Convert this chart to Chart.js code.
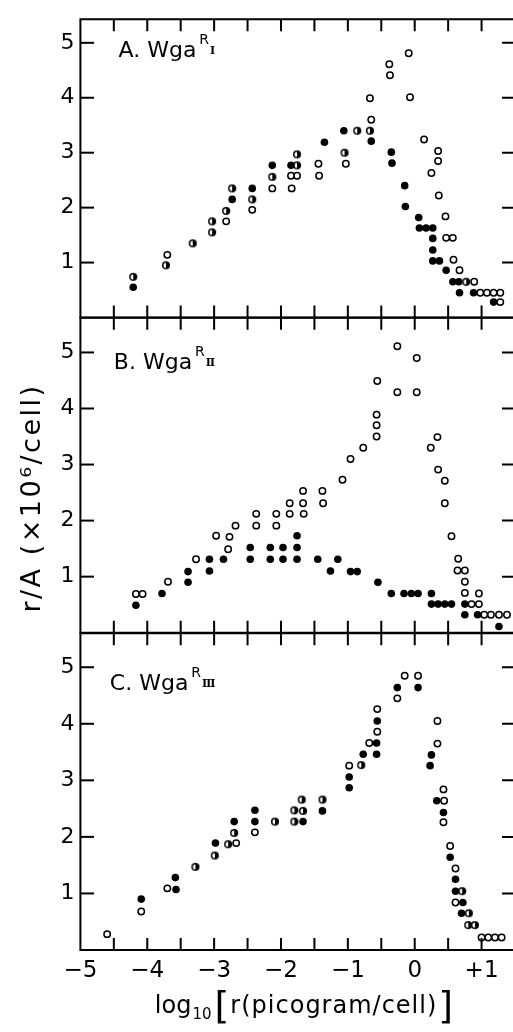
<!DOCTYPE html>
<html>
<head>
<meta charset="utf-8">
<script src="https://cdn.jsdelivr.net/npm/chart.js@4"></script>
<style>
body { margin: 0; background: #fff; }
#wrap { position: relative; width: 513px; height: 1032px; }
canvas { position: absolute; left: 0; top: 0; }
</style>
</head>
<body>
<div id="wrap">
    <canvas id="panelA" width="513" height="1032"></canvas>
    <canvas id="panelB" width="513" height="1032"></canvas>
    <canvas id="panelC" width="513" height="1032"></canvas>
</div>
<script>
// axis ticks
const xLabelValues = [-5, -4, -3, -2, -1, 0, 1];
const xMarkValues = [-4.5, -4, -3.5, -3, -2.5, -2, -1.5, -1, -0.5, 0, 0.5, 1];
const yTickValues = [1, 2, 3, 4, 5];

// panel A: Wga R-I   [log10 r, r/A]
const aFilled = [[-4.21,0.55],[-2.73,2.15],[-2.43,2.35],[-2.13,2.77],[-1.85,2.77],[-1.35,3.19],[-1.06,3.40],
    [-0.65,3.21],[-0.35,3.01],[-0.34,2.81],[-0.15,2.40],[-0.14,2.02],[0.06,1.82],[0.07,1.63],[0.17,1.63],
    [0.27,1.63],[0.27,1.44],[0.27,1.23],[0.27,1.03],[0.37,1.03],[0.47,0.86],[0.57,0.65],[0.66,0.65],
    [0.67,0.45],[0.88,0.45],[1.18,0.28]];
const aOpen = [[-3.70,1.14],[-2.82,1.75],[-2.43,1.96],[-2.13,2.35],[-1.85,2.58],[-1.76,2.58],[-1.84,2.35],
    [-1.44,2.80],[-1.43,2.58],[-1.03,2.80],[-0.65,3.60],[-0.67,3.99],[-0.38,4.61],[-0.37,4.41],[-0.09,4.81],
    [-0.07,4.01],[0.14,3.24],[0.35,3.03],[0.35,2.85],[0.25,2.63],[0.36,2.22],[0.46,1.84],[0.47,1.45],
    [0.57,1.45],[0.58,1.05],[0.67,0.86],[0.89,0.65],[0.98,0.45],[1.08,0.45],[1.18,0.45],[1.28,0.45],[1.28,0.28]];
const aHalf = [[-4.21,0.74],[-3.72,0.95],[-3.32,1.35],[-3.03,1.75],[-3.03,1.55],[-2.82,1.94],[-2.73,2.35],
    [-2.43,2.15],[-2.13,2.56],[-1.76,2.77],[-1.76,2.97],[-1.05,3.00],[-0.86,3.40],[-0.67,3.40],[0.77,0.65]];

// panel B: Wga R-II
const bFilled = [[-4.17,0.49],[-3.78,0.70],[-3.39,1.09],[-3.39,0.90],[-3.07,1.31],[-3.07,1.10],[-2.86,1.31],
    [-2.46,1.52],[-2.46,1.31],[-2.16,1.52],[-2.16,1.31],[-1.97,1.52],[-1.97,1.31],[-1.76,1.73],[-1.76,1.52],
    [-1.76,1.31],[-1.45,1.31],[-1.15,1.31],[-1.26,1.10],[-0.96,1.09],[-0.86,1.09],[-0.55,0.90],[-0.35,0.70],
    [-0.16,0.70],[-0.05,0.70],[0.05,0.70],[0.25,0.70],[0.25,0.51],[0.35,0.51],[0.45,0.51],[0.55,0.51],
    [0.75,0.51],[0.75,0.32],[0.94,0.32],[1.26,0.11]];
const bOpen = [[-4.17,0.69],[-4.07,0.69],[-3.69,0.91],[-3.27,1.31],[-2.97,1.73],[-2.79,1.49],[-2.77,1.71],
    [-2.68,1.91],[-2.37,2.12],[-2.37,1.91],[-2.07,2.12],[-2.07,1.91],[-1.87,2.31],[-1.87,2.12],[-1.67,2.53],
    [-1.67,2.31],[-1.66,2.12],[-1.38,2.53],[-1.37,2.31],[-1.08,2.73],[-0.96,3.10],[-0.77,3.30],[-0.57,3.50],
    [-0.57,3.70],[-0.57,3.89],[-0.56,4.49],[-0.26,5.11],[-0.26,4.29],[0.03,4.90],[0.03,4.29],[0.24,3.30],
    [0.34,3.49],[0.35,2.91],[0.45,2.71],[0.45,2.31],[0.55,1.72],[0.65,1.32],[0.64,1.11],[0.75,1.11],
    [0.75,0.91],[0.75,0.71],[0.96,0.70],[0.85,0.51],[0.96,0.51],[1.04,0.32],[1.14,0.32],[1.26,0.32],[1.38,0.32]];
const bHalf = [];

// panel C: Wga R-III
const cFilled = [[-4.09,0.90],[-3.57,1.07],[-3.58,1.28],[-2.98,1.89],[-2.70,2.27],[-2.39,2.47],[-2.39,2.27],
    [-1.67,2.27],[-1.38,2.46],[-0.98,3.06],[-0.98,2.87],[-0.77,3.46],[-0.57,3.66],[-0.57,3.46],[-0.56,4.05],
    [-0.26,4.64],[0.05,4.64],[0.25,3.45],[0.23,3.26],[0.33,2.64],[0.43,2.43],[0.53,1.64],[0.61,1.25],
    [0.61,1.04],[0.72,0.84],[0.70,0.65]];
const cOpen = [[-4.60,0.28],[-4.09,0.68],[-3.70,1.09],[-2.67,1.89],[-2.39,2.08],[-0.98,3.26],[-0.68,3.66],
    [-0.56,3.86],[-0.56,4.26],[-0.26,4.45],[-0.15,4.85],[0.05,4.85],[0.34,4.05],[0.34,3.65],[0.43,2.84],
    [0.44,2.64],[0.43,2.26],[0.53,1.84],[0.61,1.44],[0.61,0.84],[1.00,0.22],[1.10,0.22],[1.20,0.22],[1.30,0.22]];
const cHalf = [[-3.28,1.47],[-2.99,1.67],[-2.79,1.87],[-2.70,2.07],[-2.09,2.27],[-1.80,2.47],[-1.80,2.27],
    [-1.69,2.66],[-1.67,2.46],[-1.38,2.66],[-0.80,3.27],[0.71,1.04],[0.81,0.65],[0.80,0.44],[0.90,0.44]];

const FONT = '"DejaVu Sans", sans-serif';

function toPoints(pairs) {
    return pairs.map(p => ({x: p[0], y: p[1]}));
}

// half filled circle marker
function halfDot() {
    const c = document.createElement('canvas');
    c.width = 10; c.height = 10;
    const g = c.getContext('2d');
    g.lineWidth = 1.5;
    g.strokeStyle = '#000';
    g.beginPath(); g.arc(5, 5, 3.3, 0, Math.PI * 2);
    g.fillStyle = '#fff'; g.fill(); g.stroke();
    g.beginPath(); g.arc(5, 5, 3.3, -Math.PI / 2, Math.PI / 2); g.closePath();
    g.fillStyle = '#000'; g.fill();
    return c;
}
const halfStyle = halfDot();

// frame (no right line) with inward ticks on every side
const framePlugin = {
    id: 'frame',
    afterDraw(chart) {
        const ctx = chart.ctx;
        const a = chart.chartArea;
        const xs = chart.scales.x, ys = chart.scales.y;
        const left = Math.round(a.left);
        ctx.save();
        ctx.strokeStyle = '#000';
        ctx.fillStyle = '#000';
        ctx.lineWidth = 2;
        ctx.beginPath();
        for (const v of xMarkValues) {
            const px = xs.getPixelForValue(v);
            ctx.moveTo(px, a.top); ctx.lineTo(px, a.top + 12);
            ctx.moveTo(px, a.bottom); ctx.lineTo(px, a.bottom - 12);
        }
        for (const v of yTickValues) {
            const py = ys.getPixelForValue(v);
            ctx.moveTo(a.right, py); ctx.lineTo(a.right - 11, py);
        }
        ctx.stroke();
        // left ticks as small filled bars
        for (const v of yTickValues) {
            const py = ys.getPixelForValue(v);
            ctx.fillRect(left, py - 1, 14, 2);
        }
        ctx.beginPath();
        ctx.moveTo(a.right, a.top); ctx.lineTo(a.left, a.top);
        ctx.lineTo(a.left, a.bottom); ctx.lineTo(a.right, a.bottom);
        ctx.stroke();
        ctx.restore();
    }
};

const labelPlugin = {
    id: 'panelLabel',
    afterDraw(chart, args, opts) {
        const {ctx, scales: {x, y}} = chart;
        const left = x.getPixelForValue(opts.at[0]);
        const base = y.getPixelForValue(opts.at[1]);
        ctx.save();
        ctx.fillStyle = '#000';
        ctx.textAlign = 'left';
        ctx.textBaseline = 'alphabetic';
        ctx.font = '22px ' + FONT;
        const main = opts.letter + '. Wga';
        ctx.fillText(main, left, base);
        let cx = left + ctx.measureText(main).width + 3;
        ctx.font = '14px ' + FONT;
        ctx.fillText('R', cx, base - 13);
        cx += ctx.measureText('R').width + 1;
        ctx.font = 'bold 11px "DejaVu Serif", serif';
        ctx.fillText(opts.numeral, cx, base - 3);
        ctx.restore();
    }
};

const titlePlugin = {
    id: 'axisTitles',
    afterDraw(chart) {
        const ctx = chart.ctx;
        ctx.save();
        ctx.fillStyle = '#000';
        // y title, rotated
        ctx.translate(40, 498);
        ctx.rotate(-Math.PI / 2);
        ctx.font = '27px ' + FONT;
        ctx.letterSpacing = '2.5px';
        ctx.textAlign = 'center';
        ctx.textBaseline = 'alphabetic';
        ctx.fillText('r/A (\u00d710\u2076/cell)', 0, 0);
        ctx.restore();

        // x title in pieces
        ctx.save();
        ctx.fillStyle = '#000';
        ctx.textAlign = 'left';
        ctx.textBaseline = 'alphabetic';
        const pieces = [
            {t: 'log', f: '24px ' + FONT, dy: 0, sp: '0px', gap: 1},
            {t: '10', f: '15px ' + FONT, dy: 6, sp: '0px', gap: 3},
            {t: '[', f: '38px ' + FONT, dy: 5, sp: '0px', gap: 1},
            {t: 'r(picogram/cell)', f: '24px ' + FONT, dy: 0, sp: '1px', gap: 1},
            {t: ']', f: '38px ' + FONT, dy: 5, sp: '0px', gap: 0}
        ];
        let total = 0;
        pieces.forEach(p => {
            ctx.font = p.f; ctx.letterSpacing = p.sp;
            p.w = ctx.measureText(p.t).width;
            total += p.w + p.gap;
        });
        let cx = 304 - total / 2;
        const base = 1013;
        pieces.forEach(p => {
            ctx.font = p.f; ctx.letterSpacing = p.sp;
            ctx.fillText(p.t, cx, base + p.dy);
            cx += p.w + p.gap;
        });
        ctx.restore();
    }
};

function makePanel(p) {
    const plugins = [framePlugin, labelPlugin];
    if (p.showX) plugins.push(titlePlugin);
    return new Chart(document.getElementById(p.id), {
        type: 'scatter',
        data: {
            datasets: [
                {data: toPoints(p.filled), pointStyle: 'circle', pointRadius: 3.8, pointHoverRadius: 3.8,
                    backgroundColor: '#000', borderColor: '#000', borderWidth: 0, clip: false},
                {data: toPoints(p.open), pointStyle: 'circle', pointRadius: 3.2, pointHoverRadius: 3.2,
                    backgroundColor: '#fff', borderColor: '#000', borderWidth: 1.5, clip: false},
                {data: toPoints(p.half), pointStyle: halfStyle, clip: false}
            ]
        },
        options: {
            responsive: false,
            animation: false,
            events: [],
            layout: {autoPadding: false, padding: {top: p.top, bottom: p.bottom, left: 0, right: 0}},
            plugins: {
                legend: {display: false},
                tooltip: {enabled: false},
                panelLabel: {letter: p.letter, numeral: p.numeral, at: p.labelAt}
            },
            scales: {
                x: {
                    type: 'linear', min: -5, max: 1.47,
                    display: p.showX,
                    grid: {display: false, drawTicks: false},
                    border: {display: false},
                    ticks: {
                        padding: 7, color: '#000', maxRotation: 0, autoSkip: false,
                        font: {family: FONT, size: 23},
                        callback: v => v < 0 ? '\u2212' + Math.abs(v) : (v > 0 ? '+' + v : '0')
                    },
                    afterBuildTicks: s => { s.ticks = xLabelValues.map(v => ({value: v})); },
                    afterFit: s => { s.height = p.showX ? 82 : 0; }
                },
                y: {
                    type: 'linear', min: 0, max: p.yMax,
                    grid: {display: false, drawTicks: false},
                    border: {display: false},
                    ticks: {padding: 6, color: '#000', font: {family: FONT, size: 22}},
                    afterBuildTicks: s => { s.ticks = yTickValues.map(v => ({value: v})); },
                    afterFit: s => { s.width = 80.4; }
                }
            }
        },
        plugins
    });
}

makePanel({id: 'panelA', letter: 'A', numeral: '\u2160', filled: aFilled, open: aOpen, half: aHalf,
    yMax: 5.43, top: 12, bottom: 714.5, showX: false, labelAt: [-4.43, 4.75]});
makePanel({id: 'panelB', letter: 'B', numeral: '\u2161', filled: bFilled, open: bOpen, half: bHalf,
    yMax: 5.62, top: 317.7, bottom: 399.3, showX: false, labelAt: [-4.5, 4.71]});
makePanel({id: 'panelC', letter: 'C', numeral: '\u2162', filled: cFilled, open: cOpen, half: cHalf,
    yMax: 5.6, top: 633.3, bottom: 0, showX: true, labelAt: [-4.56, 4.59]});
</script>
</body>
</html>
